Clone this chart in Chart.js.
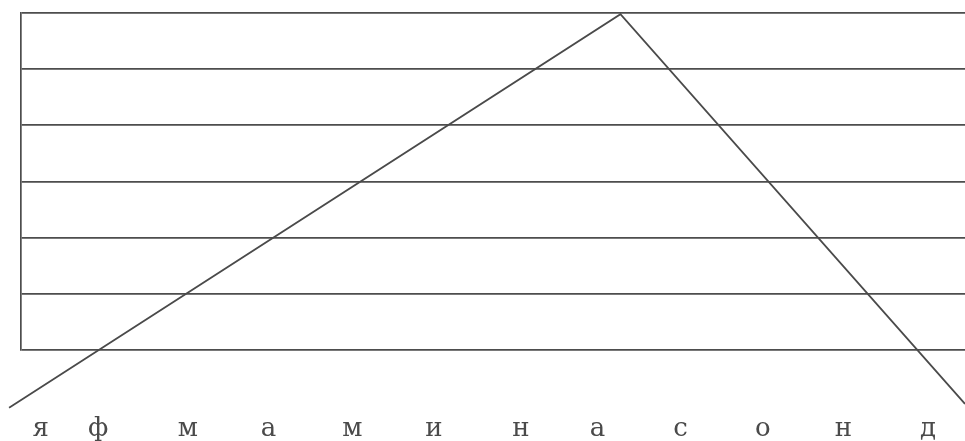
<!DOCTYPE html>
<html>
<head>
<meta charset="utf-8">
<script src="https://cdn.jsdelivr.net/npm/chart.js@4.4.1/dist/chart.umd.min.js"></script>
<style>
  html, body { margin: 0; padding: 0; background: #ffffff; overflow: hidden; }
  canvas { display: block; }
</style>
</head>
<body>
<canvas id="c" width="965" height="441"></canvas>
<script>
// Month initials (tick labels) and their positions on the x scale (month units)
const months = ['я', 'ф', 'м', 'а', 'м', 'и', 'н', 'а', 'с', 'о', 'н', 'д'];
const monthPos = [0.21, 0.91, 2.0, 2.98, 4.0, 4.99, 6.05, 6.98, 7.99, 8.99, 9.97, 11.0];

// The triangular line: x in month units, y in grid-band units
const lineX = [-0.175, 7.26, 11.45];
const lineY = [-1.03, 5.98, -0.96];

// Horizontal grid levels
const gridLevels = [0, 1, 2, 3, 4, 5, 6];

const points = lineX.map((x, i) => ({ x: x, y: lineY[i] }));

new Chart(document.getElementById('c'), {
  type: 'line',
  data: {
    datasets: [{
      data: points,
      borderColor: '#4a4a4a',
      borderWidth: 1.8,
      pointRadius: 0,
      tension: 0,
      fill: false,
      clip: false
    }]
  },
  options: {
    responsive: false,
    devicePixelRatio: 1,
    animation: false,
    layout: { padding: { left: 21, top: 13, right: 0, bottom: 0 } },
    plugins: { legend: { display: false }, tooltip: { enabled: false } },
    scales: {
      x: {
        type: 'linear',
        min: -0.03,
        max: 11.45,
        grid: { display: false, drawTicks: false },
        border: { display: false },
        afterBuildTicks: (axis) => { axis.ticks = monthPos.map(v => ({ value: v })); },
        afterFit: (axis) => { axis.height = 91; axis.paddingLeft = 0; axis.paddingRight = 0; },
        ticks: {
          autoSkip: false,
          maxRotation: 0,
          padding: 64,
          color: '#4a4a4a',
          font: { family: 'DejaVu Serif', size: 26 },
          callback: (value, index) => months[index]
        }
      },
      y: {
        type: 'linear',
        min: 0,
        max: 6,
        afterBuildTicks: (axis) => { axis.ticks = gridLevels.map(v => ({ value: v })); },
        afterFit: (axis) => { axis.width = 0; },
        grid: { color: '#4d4d4d', lineWidth: 1.7, drawTicks: false },
        border: { display: true, color: '#4d4d4d', width: 1.7 },
        ticks: { display: false }
      }
    }
  }
});
</script>
</body>
</html>
